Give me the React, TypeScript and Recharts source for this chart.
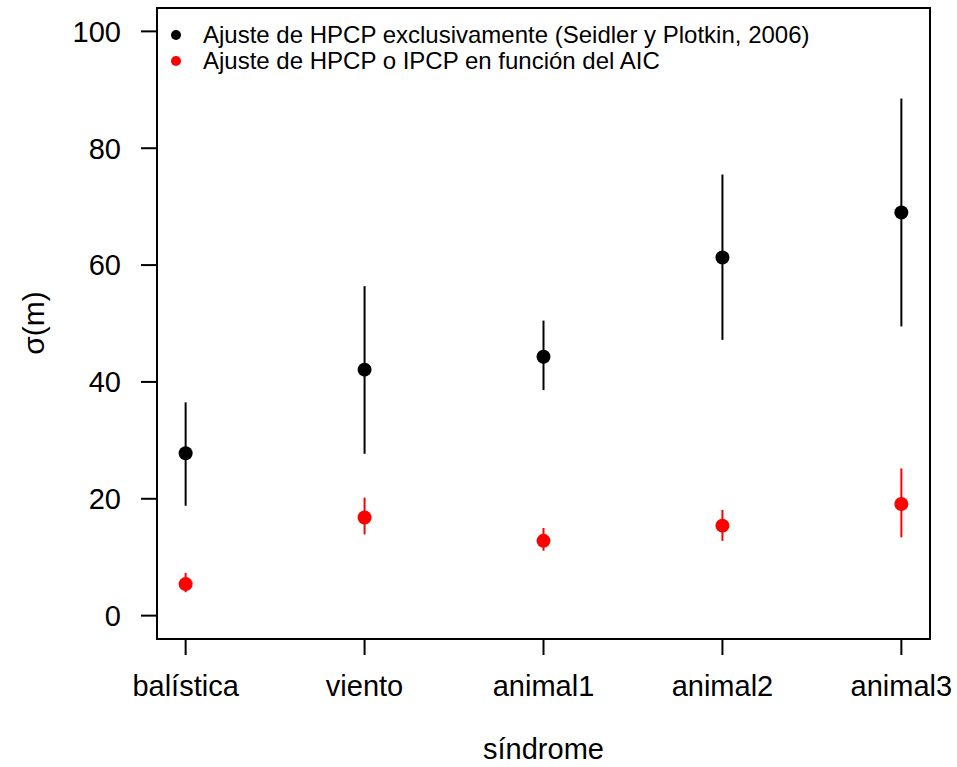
import React from "react";
import {
  ScatterChart,
  Scatter,
  XAxis,
  YAxis,
  ErrorBar,
  ReferenceArea,
} from "recharts";

// síndromes de dispersión, en el orden del eje x
const syndromes = ["balística", "viento", "animal1", "animal2", "animal3"];

// sigma (m) ajustando HPCP exclusivamente
const hpcpValue = [27.8, 42.1, 44.3, 61.3, 69.0];
const hpcpLow = [18.8, 27.7, 38.6, 47.2, 49.5];
const hpcpHigh = [36.5, 56.4, 50.5, 75.5, 88.5];

// sigma (m) eligiendo HPCP o IPCP por AIC
const aicValue = [5.4, 16.8, 12.8, 15.4, 19.1];
const aicLow = [4.0, 13.9, 11.1, 12.8, 13.4];
const aicHigh = [7.3, 20.2, 15.0, 18.1, 25.2];

const yTicks = [0, 20, 40, 60, 80, 100];
const xTicks = [1, 2, 3, 4, 5];

const legendItems = [
  { label: "Ajuste de HPCP exclusivamente (Seidler y Plotkin, 2006)", color: "#000000" },
  { label: "Ajuste de HPCP o IPCP en función del AIC", color: "#ff0000" },
];

const FONT = "'Liberation Sans', Arial, Helvetica, sans-serif";

const buildSeries = (value: number[], low: number[], high: number[]) =>
  value.map((v, i) => ({
    x: i + 1,
    y: v,
    err: [v - low[i], high[i] - v],
  }));

const hpcpData = buildSeries(hpcpValue, hpcpLow, hpcpHigh);
const aicData = buildSeries(aicValue, aicLow, aicHigh);

const dot = (color: string) => (props: any) => {
  const { cx, cy } = props;
  if (cx == null || cy == null) return <g />;
  return <circle cx={cx} cy={cy} r={7} fill={color} />;
};

// leyenda dentro del recuadro, arriba a la izquierda
const LegendBox = () => (
  <div
    style={{
      position: "absolute",
      left: 166,
      top: 22,
      fontFamily: FONT,
      fontSize: 24,
      color: "#000",
      whiteSpace: "nowrap",
    }}
  >
    {legendItems.map((item) => (
      <div key={item.label} style={{ display: "flex", alignItems: "center", height: 26 }}>
        <svg width={37} height={26}>
          <circle cx={10} cy={13} r={5} fill={item.color} />
        </svg>
        <span>{item.label}</span>
      </div>
    ))}
  </div>
);

const YLabel = () => (
  <text
    x={44}
    y={323}
    transform="rotate(-90, 44, 323)"
    textAnchor="middle"
    fontFamily={FONT}
    fontSize={30}
    fill="#000"
  >
    σ(m)
  </text>
);

export default function App() {
  return (
    <div style={{ position: "absolute", left: 0, top: 0, width: 957, height: 767, background: "#fff" }}>
      <ScatterChart
        width={957}
        height={767}
        margin={{ top: 8, right: 27, left: 0, bottom: 0 }}
        style={{ fontFamily: FONT }}
      >
        <XAxis
          type="number"
          dataKey="x"
          domain={[0.84, 5.16]}
          ticks={xTicks}
          allowDataOverflow
          height={128}
          tickSize={16}
          tickMargin={20}
          tickFormatter={(v: number) => syndromes[v - 1]}
          tick={{ fontSize: 29, fill: "#000", fontFamily: FONT }}
          axisLine={false}
          tickLine={{ stroke: "#000", strokeWidth: 2 }}
          label={{
            value: "síndrome",
            position: "insideBottom",
            offset: 8,
            fontSize: 29,
            fill: "#000",
            fontFamily: FONT,
          }}
        />
        <YAxis
          type="number"
          dataKey="y"
          domain={[-4, 104]}
          ticks={yTicks}
          allowDataOverflow
          width={157}
          tickSize={16}
          tickMargin={20}
          tick={{ fontSize: 29, fill: "#000", fontFamily: FONT }}
          axisLine={false}
          tickLine={{ stroke: "#000", strokeWidth: 2 }}
          label={<YLabel />}
        />
        <ReferenceArea
          x1={0.84}
          x2={5.16}
          y1={-4}
          y2={104}
          fill="none"
          stroke="#000"
          strokeWidth={2}
          ifOverflow="visible"
        />
        <Scatter
          name="HPCP"
          data={hpcpData}
          fill="#000"
          shape={dot("#000")}
          isAnimationActive={false}
        >
          <ErrorBar dataKey="err" direction="y" width={0} stroke="#000" strokeWidth={2} isAnimationActive={false} />
        </Scatter>
        <Scatter
          name="AIC"
          data={aicData}
          fill="#ff0000"
          shape={dot("#ff0000")}
          isAnimationActive={false}
        >
          <ErrorBar dataKey="err" direction="y" width={0} stroke="#ff0000" strokeWidth={2} isAnimationActive={false} />
        </Scatter>
      </ScatterChart>
      <LegendBox />
    </div>
  );
}
